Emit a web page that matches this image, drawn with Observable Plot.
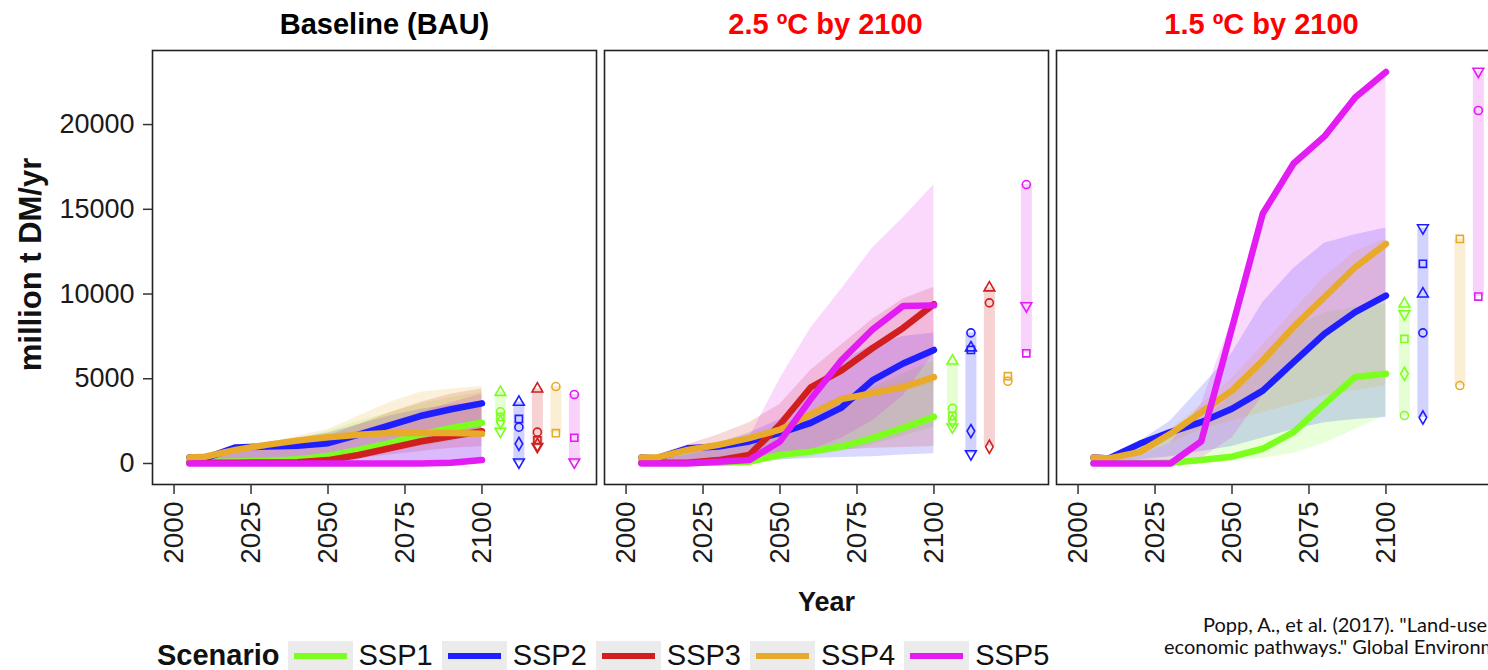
<!DOCTYPE html>
<html>
<head>
<meta charset="utf-8">
<script src="https://cdn.jsdelivr.net/npm/d3@7"></script>
<script src="https://cdn.jsdelivr.net/npm/@observablehq/plot@0.6"></script>
<style>
html, body { margin: 0; padding: 0; background: #fff; overflow: hidden; width: 1488px; height: 670px; }
#wrap { position: relative; width: 1488px; height: 670px; overflow: hidden; }
#chart { position: absolute; left: 0; top: 0; }
#chart svg { max-width: none !important; }
#legend { position: absolute; left: 157px; top: 641px; display: flex; align-items: flex-start; font-family: "Liberation Sans", Arial, sans-serif; font-size: 29px; color: #111; white-space: nowrap; }
#legend .title { font-weight: bold; line-height: 29px; }
#legend .key { width: 65px; height: 34px; background: #ebebeb; margin-left: 8px; position: relative; }
#legend .key span { position: absolute; left: 6px; right: 6px; top: 12px; height: 6px; }
#legend .lab { margin-left: 6px; line-height: 29px; }
#caption { position: absolute; top: 613px; left: 1164px; font-family: Lato, "Open Sans", sans-serif; font-size: 20px; color: #111; white-space: nowrap; line-height: 22px; }
#caption div:first-child { padding-left: 39px; }
</style>
</head>
<body>
<div id="wrap">
  <div id="chart"></div>
  <div id="legend"></div>
  <div id="caption"></div>
</div>
<script>
// ---------- data ----------
const years = [2005, 2010, 2020, 2030, 2040, 2050, 2060, 2070, 2080, 2090, 2100];
const scenarios = ["SSP1", "SSP2", "SSP3", "SSP4", "SSP5"];
const scenarioColors = ["#7cff1e", "#1e1eff", "#d11f1f", "#e8aa2a", "#e21cf2"];
const panels = ["Baseline (BAU)", "2.5 ºC by 2100", "1.5 ºC by 2100"];
const panelTitleColors = ["#000000", "#ff0000", "#ff0000"];
const yTicks = [0, 5000, 10000, 15000, 20000];
const xTicks = [2000, 2025, 2050, 2075, 2100];
// 2100 values by model, shown as a column beside each panel
const models = ["IMAGE", "MESSAGE-GLOBIOM", "AIM/CGE", "GCAM", "REMIND-MAgPIE"];
const modelSymbols = ["triangle", "circle", "square", "diamond", "triangle"];
const modelRotate = [0, 0, 0, 0, 180];
const markerColumnYear = [2106, 2112, 2118, 2124, 2130];

// Baseline (BAU)
const bauMean = {
  SSP1: [100, 100, 120, 150, 250, 450, 800, 1200, 1700, 2100, 2400],
  SSP2: [350, 300, 950, 1000, 1050, 1200, 1700, 2250, 2800, 3200, 3550],
  SSP3: [50, 50, 50, 60, 80, 200, 500, 900, 1300, 1600, 1900],
  SSP4: [350, 400, 800, 1100, 1350, 1550, 1700, 1800, 1800, 1800, 1750],
  SSP5: [0, 0, 0, 0, 0, 0, 0, 0, 0, 50, 200]
};
const bauLo = {
  SSP1: [50, 50, 60, 80, 150, 250, 450, 700, 1000, 1300, 1900],
  SSP2: [50, 50, 60, 70, 80, 80, 80, 80, 80, 80, 80],
  SSP3: [30, 30, 30, 40, 50, 100, 300, 500, 700, 900, 1000],
  SSP4: [300, 350, 700, 1000, 1200, 1400, 1600, 1700, 1750, 1780, 1790],
  SSP5: [0, 0, 0, 0, 0, 0, 0, 0, 0, 50, 80]
};
const bauHi = {
  SSP1: [300, 350, 700, 1000, 1400, 1900, 2500, 3000, 3500, 3900, 4200],
  SSP2: [400, 400, 1000, 1200, 1500, 1800, 2300, 2800, 3200, 3450, 3650],
  SSP3: [300, 400, 900, 1100, 1300, 1600, 2300, 3000, 3600, 4100, 4400],
  SSP4: [400, 450, 900, 1200, 1600, 2000, 2800, 3600, 4200, 4400, 4550],
  SSP5: [100, 200, 600, 900, 1200, 1500, 1900, 2400, 3000, 3600, 4100]
};
const bauMarkers = {
  SSP1: [4200, 3050, 2750, 2450, 1900],
  SSP2: [3620, 2140, 2630, 1160, 80],
  SSP3: [4400, 1850, 1360, 1100, 1000],
  SSP4: [null, 4540, 1790, null, null],
  SSP5: [null, 4070, 1520, null, 80]
};

// 2.5 ºC by 2100
const c25Mean = {
  SSP1: [50, 50, 50, 50, 100, 500, 700, 1000, 1500, 2100, 2750],
  SSP2: [350, 300, 900, 1000, 1300, 1800, 2400, 3300, 4900, 5900, 6700],
  SSP3: [50, 50, 50, 200, 500, 2300, 4500, 5500, 6800, 8000, 9400],
  SSP4: [350, 350, 800, 1100, 1500, 2000, 2900, 3800, 4150, 4500, 5100],
  SSP5: [0, 0, 0, 100, 200, 1300, 3800, 6100, 7900, 9300, 9330]
};
const c25Lo = {
  SSP1: [0, 0, 0, 0, 50, 200, 400, 700, 1100, 1600, 2150],
  SSP2: [100, 50, 60, 80, 100, 200, 300, 350, 400, 500, 570],
  SSP3: [0, 0, 0, 50, 100, 300, 600, 800, 900, 950, 1000],
  SSP4: [300, 300, 700, 1000, 1400, 1900, 2700, 3600, 4000, 4300, 4650],
  SSP5: [0, 0, 0, 0, 50, 300, 800, 1500, 2500, 4000, 6500]
};
const c25Hi = {
  SSP1: [300, 400, 800, 1000, 1300, 2000, 2800, 3700, 4500, 5300, 6050],
  SSP2: [400, 400, 1000, 1200, 1800, 2600, 4500, 6000, 7000, 7500, 7700],
  SSP3: [300, 500, 1100, 1700, 2400, 3500, 5500, 7000, 8500, 9700, 10400],
  SSP4: [400, 400, 900, 1200, 1600, 2100, 3100, 4000, 4400, 4800, 5150],
  SSP5: [100, 200, 500, 900, 1500, 5000, 8000, 10300, 12700, 14500, 16450]
};
const c25Markers = {
  SSP1: [6050, 3250, 2800, 2500, 2150],
  SSP2: [6830, 7710, 6700, 1910, 570],
  SSP3: [10370, 9480, null, 990, null],
  SSP4: [null, 4850, 5150, null, null],
  SSP5: [null, 16460, 6500, null, 9300]
};

// 1.5 ºC by 2100 (no SSP3)
const c15Mean = {
  SSP1: [50, 50, 50, 50, 200, 400, 870, 1850, 3500, 5100, 5300],
  SSP2: [350, 300, 1160, 1850, 2440, 3230, 4300, 5980, 7650, 8930, 9910],
  SSP4: [350, 300, 670, 1750, 3030, 4300, 6080, 8060, 9810, 11580, 12960],
  SSP5: [0, 0, 0, 0, 1300, 8000, 14750, 17700, 19300, 21600, 23100]
};
const c15Lo = {
  SSP1: [0, 0, 0, 0, 50, 150, 300, 600, 1200, 2000, 2850],
  SSP2: [50, 50, 200, 400, 700, 1000, 1500, 2000, 2400, 2600, 2710],
  SSP4: [300, 250, 500, 1200, 2000, 2500, 3000, 3500, 4000, 4300, 4600],
  SSP5: [0, 0, 0, 0, 300, 1500, 4000, 6000, 7500, 9000, 9850]
};
const c15Hi = {
  SSP1: [300, 400, 900, 1500, 2500, 4000, 6300, 8000, 8900, 9200, 9400],
  SSP2: [400, 400, 1300, 2500, 4500, 6500, 9500, 11500, 13000, 13500, 13900],
  SSP4: [400, 350, 800, 2000, 3500, 5000, 7000, 9000, 11000, 12500, 13250],
  SSP5: [100, 200, 500, 1200, 3500, 8500, 14750, 17700, 19300, 21600, 23100]
};
const c15Markers = {
  SSP1: [9420, 2830, 7350, 5290, 8830],
  SSP2: [10010, 7710, 11780, 2710, 13900],
  SSP4: [null, 4600, 13250, null, null],
  SSP5: [null, 20830, 9850, null, 23140]
};

// ---------- tables for the library ----------
const panelSets = [
  [panels[0], bauMean, bauLo, bauHi, bauMarkers],
  [panels[1], c25Mean, c25Lo, c25Hi, c25Markers],
  [panels[2], c15Mean, c15Lo, c15Hi, c15Markers]
];
const series = [], markers = [], ranges = [];
for (const [panel, mean, lo, hi, mk] of panelSets) {
  scenarios.forEach((s, k) => {
    if (!mean[s]) return;
    years.forEach((year, i) => series.push({panel, scenario: s, year, mean: mean[s][i], lo: lo[s][i], hi: hi[s][i]}));
    const vals = [];
    mk[s].forEach((v, m) => {
      if (v == null) return;
      vals.push(v);
      markers.push({panel, scenario: s, model: models[m], m, col: markerColumnYear[k], value: v});
    });
    ranges.push({panel, scenario: s, col: markerColumnYear[k], min: d3.min(vals), max: d3.max(vals)});
  });
}

// ---------- marks ----------
const marks = [];
scenarios.forEach((s, k) => {
  marks.push(Plot.areaY(series.filter(d => d.scenario === s), {
    fx: "panel", x: "year", y1: "lo", y2: "hi", fill: scenarioColors[k], fillOpacity: 0.17
  }));
});
scenarios.forEach((s, k) => {
  marks.push(Plot.line(series.filter(d => d.scenario === s), {
    fx: "panel", x: "year", y: "mean", stroke: scenarioColors[k], strokeWidth: 6.5
  }));
});
scenarios.forEach((s, k) => {
  marks.push(Plot.ruleX(ranges.filter(d => d.scenario === s), {
    fx: "panel", x: "col", y1: "min", y2: "max", stroke: scenarioColors[k], strokeOpacity: 0.2, strokeWidth: 11
  }));
  models.forEach((mName, m) => {
    marks.push(Plot.dot(markers.filter(d => d.scenario === s && d.m === m), {
      fx: "panel", x: "col", y: "value", symbol: modelSymbols[m], rotate: modelRotate[m],
      stroke: scenarioColors[k], fill: "none", r: 4, strokeWidth: 1.6
    }));
  });
});
marks.push(Plot.frame({stroke: "#222", strokeWidth: 1.6}));
marks.push(Plot.axisY(yTicks, {anchor: "left", tickSize: 9, tickPadding: 9, fontSize: 27, tickFormat: d => String(d), label: null, stroke: "#333", strokeWidth: 1.5, fill: "#1a1a1a"}));
marks.push(Plot.axisX(xTicks, {anchor: "bottom", tickSize: 10, tickPadding: 7, tickRotate: -90, fontSize: 28, tickFormat: d => String(d), label: null, stroke: "#333", strokeWidth: 1.5, fill: "#1a1a1a"}));
const titleDx = [10, -1, -17];
panels.forEach((p, i) => {
  marks.push(Plot.text([p], {fx: d => d, text: d => d, frameAnchor: "top", dy: -26, dx: titleDx[i],
    fill: panelTitleColors[i], fontSize: 29, fontWeight: "bold", lineAnchor: "middle"}));
});
marks.push(Plot.text(["million t DM/yr"], {fx: () => panels[0], text: d => d, frameAnchor: "left", dx: -121, dy: -3, rotate: -90,
  textAnchor: "middle", lineAnchor: "middle", fontSize: 31, fontWeight: "bold", fill: "#111"}));
marks.push(Plot.text(["Year"], {fx: () => panels[1], text: d => d, frameAnchor: "bottom", dy: 126,
  fontSize: 27, fontWeight: "bold", fill: "#111"}));

const chart = Plot.plot({
  width: 1512,
  height: 636,
  marginTop: 50,
  marginBottom: 152,
  marginLeft: 152,
  marginRight: 12,
  style: {fontFamily: "'Liberation Sans', Arial, sans-serif", background: "white", overflow: "visible", maxWidth: "none"},
  fx: {domain: panels, paddingInner: 8 / 452, paddingOuter: 0, axis: null, label: null},
  x: {domain: [1993, 2137.2], label: null},
  y: {domain: [-1240, 24370], label: null},
  marks
});
document.getElementById("chart").appendChild(chart);

// ---------- legend ----------
const legend = document.getElementById("legend");
const t = document.createElement("div");
t.className = "title"; t.textContent = "Scenario";
legend.appendChild(t);
scenarios.forEach((s, k) => {
  const key = document.createElement("div");
  key.className = "key";
  if (k > 0) key.style.marginLeft = "9px";
  const line = document.createElement("span");
  line.style.background = scenarioColors[k];
  key.appendChild(line);
  legend.appendChild(key);
  const lab = document.createElement("div");
  lab.className = "lab"; lab.textContent = s;
  legend.appendChild(lab);
});

// ---------- caption ----------
const captionLines = [
  'Popp, A., et al. (2017). "Land-use futures in the shared socio-',
  'economic pathways." Global Environmental Change 42: 331-345.'
];
const cap = document.getElementById("caption");
captionLines.forEach(l => { const d = document.createElement("div"); d.textContent = l; cap.appendChild(d); });
</script>
</body>
</html>
